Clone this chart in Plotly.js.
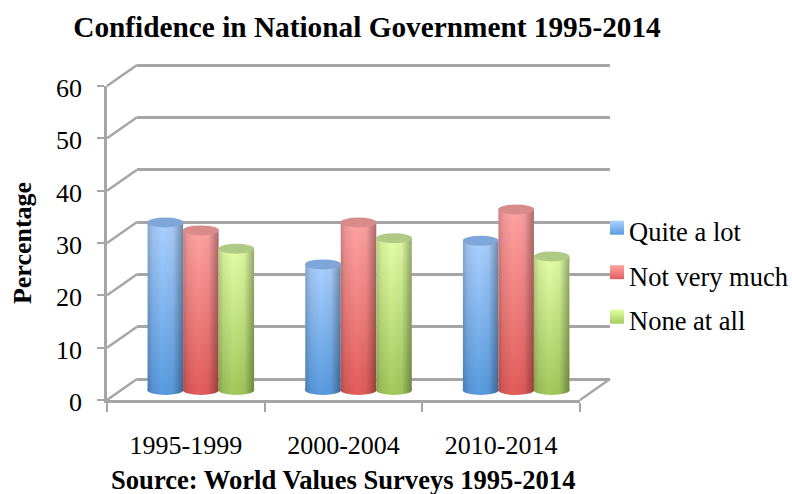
<!DOCTYPE html>
<html>
<head>
<meta charset="utf-8">
<script src="https://cdn.plot.ly/plotly-3.0.1.min.js"></script>
<style>html,body{margin:0;padding:0;background:#fff}</style>
</head>
<body>
<div id="chart" style="width:792px;height:494px"></div>
<script>
// Survey results, percent of respondents per period
var periods = ['1995-1999', '2000-2004', '2010-2014'];
var quiteALot = [32, 24, 28.5];
var notVeryMuch = [30.5, 32, 34.5];
var noneAtAll = [27, 29, 25.5];
var seriesNames = ['Quite a lot', 'Not very much', 'None at all'];
var yTicks = [0, 10, 20, 30, 40, 50, 60];

// Tops, bottoms, cap and edge colours of each cylinder colour
var palette = [
  {top: '#abd0ff', bottom: '#5a9ce0', cap: '#7ea6d8'},
  {top: '#ffa3a3', bottom: '#e25e5c', cap: '#d98a8a'},
  {top: '#e3ffa6', bottom: '#a4ca5e', cap: '#afca84'}
];
var seriesValues = [quiteALot, notVeryMuch, noneAtAll];

var W = 792, H = 494;
var FONT = '"Liberation Serif", "Times New Roman", serif';
var GRAY = '#a6a6a6';
var LINE = 2.5;
var px = function (v) { return v / W; };
var py = function (v) { return (H - v) / H; };

// Box corners: a front plane and a back wall offset in depth
var front = {l: 107, r: 580, y0: 400, y60: 86};
var depth = {dx: 30, dy: -21};
var unit = (front.y0 - front.y60) / 60;
// Cylinders stand half way into the box
var midY0 = front.y0 + depth.dy / 2 + 0.5;
var yMin = -4;
// The wall axis runs past both ends so its first and last gridlines are drawn
var wallPad = 2;

var slotPx = 35.5, capRx = 18, capRy = 5;
var catPx = (front.r - front.l) / 3;

var traces = seriesValues.map(function (vals, s) {
  return {
    type: 'bar', name: seriesNames[s], x: periods, y: vals, xaxis: 'x2', yaxis: 'y2',
    legendgroup: seriesNames[s], marker: {color: palette[s].bottom, line: {width: 0}},
    hoverinfo: 'x+y+name'
  };
});
// Carries the labelled front category axis
traces.push({type: 'scatter', mode: 'none', x: periods, y: [0, 0, 0], xaxis: 'x3', yaxis: 'y3',
  showlegend: false, hoverinfo: 'skip'});
// Carries the back wall gridlines
traces.push({type: 'scatter', mode: 'none', x: [0, 1], y: [0, 60], xaxis: 'x', yaxis: 'y',
  showlegend: false, hoverinfo: 'skip'});

var shapes = [];
var lineShape = function (x0, y0, x1, y1) {
  shapes.push({type: 'line', xref: 'paper', yref: 'paper', x0: px(x0), y0: py(y0), x1: px(x1), y1: py(y1),
    line: {color: GRAY, width: LINE}, layer: 'below'});
};
// Left wall diagonals for each gridline and the floor's right edge
yTicks.forEach(function (t) {
  var yy = front.y0 - t * unit;
  lineShape(front.l, yy, front.l + depth.dx, yy + depth.dy);
});
lineShape(front.r, front.y0, front.r + depth.dx, front.y0 + depth.dy);

// Cylinder ends: bases under the bodies, lids above them
var capIndex = [];
seriesValues.forEach(function (vals, s) {
  vals.forEach(function (v, i) {
    var cx = i + (s - 1) * slotPx / catPx, rx = capRx / catPx, ry = capRy / unit;
    capIndex.push({idx: shapes.length, s: s, kind: 'base'});
    shapes.push({type: 'circle', xref: 'x2', yref: 'y2', x0: cx - rx, x1: cx + rx, y0: -ry, y1: ry,
      fillcolor: palette[s].bottom, line: {width: 0}, layer: 'below'});
  });
});
seriesValues.forEach(function (vals, s) {
  vals.forEach(function (v, i) {
    var cx = i + (s - 1) * slotPx / catPx, rx = capRx / catPx, ry = capRy / unit;
    shapes.push({type: 'circle', xref: 'x2', yref: 'y2', x0: cx - rx, x1: cx + rx, y0: v - ry, y1: v + ry,
      fillcolor: palette[s].cap, line: {width: 0}, layer: 'above'});
  });
});

var layout = {
  width: W, height: H, margin: {l: 0, r: 0, t: 0, b: 0, autoexpand: false}, paper_bgcolor: '#fff', plot_bgcolor: 'rgba(0,0,0,0)',
  font: {family: FONT, color: '#000'},
  title: {text: '<b>Confidence in National Government 1995-2014</b>', font: {family: FONT, size: 29.3, color: '#000'},
    x: px(367), xanchor: 'center', xref: 'paper', y: py(27), yanchor: 'middle', yref: 'paper', automargin: false},
  barmode: 'group', bargap: 1 - 3 * slotPx / catPx, bargroupgap: 0,
  // Back wall
  xaxis: {domain: [px(front.l + depth.dx), px(front.r + depth.dx)], range: [0, 1], visible: false, fixedrange: true},
  yaxis: {domain: [py(front.y0 + depth.dy + wallPad * unit), py(front.y60 + depth.dy - wallPad * unit)],
    range: [-wallPad, 60 + wallPad], tickvals: yTicks,
    showgrid: true, gridcolor: GRAY, gridwidth: LINE, zeroline: false, showticklabels: false, ticks: '', showline: false, fixedrange: true},
  // Cylinders
  xaxis2: {domain: [px(front.l + depth.dx / 2), px(front.r + depth.dx / 2)], type: 'category', categoryarray: periods,
    range: [-0.5, 2.5], visible: false, anchor: 'y2', fixedrange: true},
  yaxis2: {domain: [py(midY0 - yMin * unit), py(midY0 - 60 * unit)], range: [yMin, 60], visible: false, anchor: 'x2', fixedrange: true},
  // Labelled front axes
  xaxis3: {domain: [px(front.l), px(front.r)], type: 'category', categoryorder: 'array', categoryarray: periods,
    range: [-0.5, 2.5], tickson: 'boundaries', ticks: 'outside', ticklen: 9, tickwidth: 2, tickcolor: GRAY,
    showline: true, linecolor: GRAY, linewidth: LINE, showgrid: false, zeroline: false, anchor: 'y3',
    tickfont: {family: FONT, size: 26, color: '#000'}, ticklabelstandoff: 20, fixedrange: true},
  yaxis3: {domain: [py(front.y0), py(front.y60)], range: [0, 60], tickvals: yTicks, ticks: 'outside', ticklen: 7,
    tickwidth: 2, tickcolor: GRAY, showline: true, linecolor: GRAY, linewidth: LINE, showgrid: false, zeroline: false,
    anchor: 'x3', tickfont: {family: FONT, size: 26, color: '#000'}, ticklabelstandoff: 10, fixedrange: true,
    title: {text: '<b>Percentage</b>', font: {family: FONT, size: 26, color: '#000'}, standoff: 17}},
  shapes: shapes,
  legend: {x: px(589), y: py(207), xanchor: 'left', yanchor: 'top', xref: 'paper', yref: 'paper',
    bgcolor: 'rgba(0,0,0,0)', font: {family: FONT, size: 26.5, color: '#000'}, itemclick: false, itemdoubleclick: false,
    tracegroupgap: 7, itemwidth: 30, traceorder: 'grouped'},
  annotations: [{text: '<b>Source: World Values Surveys 1995-2014</b>', xref: 'paper', yref: 'paper', x: px(343), y: py(480),
    xanchor: 'center', yanchor: 'middle', showarrow: false, font: {family: FONT, size: 26.6, color: '#000'}}]
};

// Rounded shading for the cylinders, added as SVG gradients once the chart exists
function applyShading(gd) {
  var NS = 'http://www.w3.org/2000/svg';
  var svg = gd.querySelector('svg.main-svg');
  var defs = svg.querySelector('defs') || svg.insertBefore(document.createElementNS(NS, 'defs'), svg.firstChild);
  function gradient(id, horizontal, stops) {
    var g = document.createElementNS(NS, 'linearGradient');
    g.setAttribute('id', id);
    g.setAttribute('x1', '0'); g.setAttribute('y1', '0');
    g.setAttribute('x2', horizontal ? '1' : '0'); g.setAttribute('y2', horizontal ? '0' : '1');
    stops.forEach(function (st) {
      var e = document.createElementNS(NS, 'stop');
      e.setAttribute('offset', st[0]); e.setAttribute('stop-color', st[1]);
      if (st[2] !== undefined) e.setAttribute('stop-opacity', st[2]);
      g.appendChild(e);
    });
    defs.appendChild(g);
  }
  palette.forEach(function (p, s) {
    gradient('body' + s, false, [[0, p.top], [1, p.bottom]]);
    gradient('edge' + s, true, [[0, '#000', 0.2], [0.14, '#000', 0.07], [0.42, '#000', 0], [0.72, '#000', 0.04], [1, '#000', 0.34]]);
  });
  function shade(path, s) {
    var clone = path.cloneNode(false);
    clone.style.setProperty('fill', 'url(#edge' + s + ')', 'important');
    clone.style.setProperty('fill-opacity', '1');
    clone.style.pointerEvents = 'none';
    path.parentNode.insertBefore(clone, path.nextSibling);
  }
  gd.querySelectorAll('.barlayer .trace').forEach(function (tr, s) {
    tr.querySelectorAll('.point path').forEach(function (path) {
      path.style.setProperty('fill', 'url(#body' + s + ')', 'important');
      shade(path, s);
    });
  });
  capIndex.forEach(function (c) {
    gd.querySelectorAll('.shapelayer path[data-index="' + c.idx + '"]').forEach(function (path) {
      shade(path, c.s);
    });
  });
  // Square legend keys with the same vertical fade
  gd.querySelectorAll('.legend .traces').forEach(function (tr, s) {
    tr.querySelectorAll('.legendpoints path').forEach(function (path) {
      path.setAttribute('d', 'M1,-10H15V4H1Z');
      path.style.setProperty('fill', 'url(#body' + s + ')', 'important');
      path.style.setProperty('stroke-width', '0');
    });
  });
  // Value labels sit a little lower than their tick marks
  gd.querySelectorAll('.y3tick text').forEach(function (t) { t.setAttribute('dy', '2'); });
}

Plotly.newPlot('chart', traces, layout, {displayModeBar: false, responsive: false}).then(function (gd) {
  applyShading(gd);
});
</script>
</body>
</html>
